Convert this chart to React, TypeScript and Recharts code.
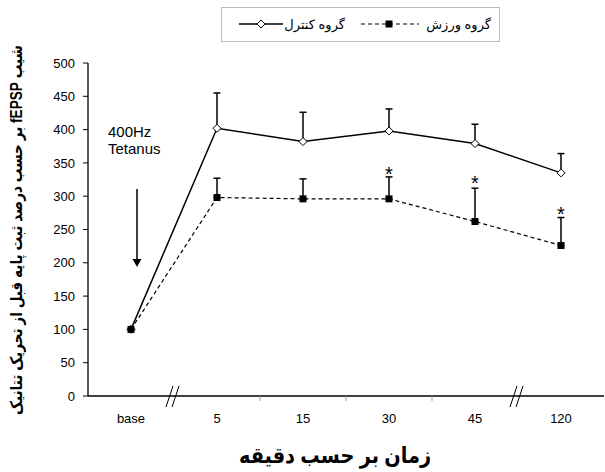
import React from "react";
import { ComposedChart, Line, XAxis, YAxis, ErrorBar } from "recharts";

const categories = ["base", "5", "15", "30", "45", "120"];
const controlMean = [100, 402, 382, 398, 379, 335];
const controlSem = [0, 53, 44, 33, 29, 29];
const exerciseMean = [100, 298, 296, 296, 262, 226];
const exerciseSem = [0, 29, 30, 33, 50, 42];
// where the significance asterisks sit (exercise group)
const starAt = [null, null, null, 338, 324, 278];
const yTicks = [0, 50, 100, 150, 200, 250, 300, 350, 400, 450, 500];

const CONTROL_NAME = "گروه کنترل";
const EXERCISE_NAME = "گروه ورزش";
const Y_LABEL = "شیب fEPSP بر حسب درصد ثبت پایه قبل از تحریک تتانیک";
const X_LABEL = "زمان بر حسب دقیقه";

const data = categories.map((c, i) => ({
  time: c,
  control: controlMean[i],
  controlErr: [0, controlSem[i]],
  exercise: exerciseMean[i],
  exerciseErr: [0, exerciseSem[i]],
  star: starAt[i],
}));

const W = 605;
const H = 472;
const PLOT = { left: 88, top: 63, right: 604, bottom: 396 };
const BAND = (PLOT.right - PLOT.left) / categories.length;
const FONT = "'Liberation Sans', Arial, 'DejaVu Sans', sans-serif";

const Diamond = (p: any) => {
  const { cx, cy } = p;
  if (cx == null || cy == null) return null;
  const r = 4;
  return (
    <path
      d={`M${cx},${cy - r}L${cx + r},${cy}L${cx},${cy + r}L${cx - r},${cy}Z`}
      fill="#fff"
      stroke="#000"
      strokeWidth={1}
    />
  );
};

const Square = (p: any) => {
  const { cx, cy } = p;
  if (cx == null || cy == null) return null;
  return <rect x={cx - 3.5} y={cy - 3.5} width={7} height={7} fill="#000" />;
};

const Star = (p: any) => {
  const { cx, cy, payload } = p;
  if (payload?.star == null || cy == null) return null;
  return (
    <text x={cx} y={cy + 10} textAnchor="middle" fontSize={20} fontFamily={FONT} fill="#000">
      *
    </text>
  );
};

function BreakMark({ x }: { x: number }) {
  const y = PLOT.bottom;
  return (
    <g stroke="#000" strokeWidth={1}>
      <line x1={x - 8} y1={y + 11} x2={x - 1} y2={y - 10} />
      <line x1={x - 2} y1={y + 11} x2={x + 5} y2={y - 10} />
    </g>
  );
}

function LegendBox() {
  return (
    <svg
      width={279}
      height={36}
      style={{ position: "absolute", left: 221, top: 7 }}
    >
      <rect x={0.5} y={0.5} width={278} height={34} fill="#fff" stroke="#bbb" />
      <line x1={18} y1={17} x2={62} y2={17} stroke="#000" strokeWidth={1.5} />
      <Diamond cx={40} cy={17} />
      <text x={124} y={22} textAnchor="end" fontSize={13} fontFamily={FONT}>
        {CONTROL_NAME}
      </text>
      <line x1={140} y1={17} x2={198} y2={17} stroke="#000" strokeWidth={1.2} strokeDasharray="4 3" />
      <Square cx={168} cy={17} />
      <text x={270} y={22} textAnchor="end" fontSize={13} fontFamily={FONT}>
        {EXERCISE_NAME}
      </text>
    </svg>
  );
}

export default function App() {
  const midTicks = [2, 3, 4].map((k) => PLOT.left + k * BAND);
  return (
    <div style={{ position: "absolute", left: 0, top: 0, width: W, height: H, background: "#fff" }}>
      <ComposedChart
        width={W}
        height={H}
        data={data}
        margin={{ top: PLOT.top, right: W - PLOT.right, left: 28, bottom: H - PLOT.bottom - 30 }}
      >
        <XAxis
          dataKey="time"
          height={30}
          padding={{ left: BAND / 2, right: BAND / 2 }}
          tickLine={false}
          axisLine={{ stroke: "#000", strokeWidth: 1.3 }}
          tick={{ fill: "#000", fontSize: 13, fontFamily: FONT }}
          tickMargin={12}
          interval={0}
        />
        <YAxis
          width={60}
          domain={[0, 500]}
          ticks={yTicks}
          interval={0}
          axisLine={{ stroke: "#000", strokeWidth: 1.3 }}
          tickLine={{ stroke: "#000" }}
          tickSize={5}
          tickMargin={8}
          tick={{ fill: "#000", fontSize: 13, fontFamily: FONT }}
        />
        <Line
          dataKey="control"
          name={CONTROL_NAME}
          stroke="#000"
          strokeWidth={1.5}
          dot={<Diamond />}
          activeDot={false}
          isAnimationActive={false}
        >
          <ErrorBar dataKey="controlErr" direction="y" width={3.5} stroke="#000" strokeWidth={1.5} />
        </Line>
        <Line
          dataKey="exercise"
          name={EXERCISE_NAME}
          stroke="#000"
          strokeWidth={1.2}
          strokeDasharray="4 3"
          dot={<Square />}
          activeDot={false}
          isAnimationActive={false}
        >
          <ErrorBar dataKey="exerciseErr" direction="y" width={3.5} stroke="#000" strokeWidth={1.5} />
        </Line>
        <Line
          dataKey="star"
          stroke="none"
          dot={<Star />}
          activeDot={false}
          legendType="none"
          isAnimationActive={false}
        />
      </ComposedChart>

      <svg
        width={W}
        height={H}
        style={{ position: "absolute", left: 0, top: 0, pointerEvents: "none" }}
      >
        {midTicks.map((x) => (
          <line key={x} x1={x} y1={PLOT.bottom} x2={x} y2={PLOT.bottom + 5} stroke="#999" />
        ))}
        <BreakMark x={PLOT.left + BAND} />
        <BreakMark x={PLOT.left + 5 * BAND} />

        <text x={108} y={137} fontSize={15} fontFamily={FONT} fill="#000">400Hz</text>
        <text x={108} y={154} fontSize={15} fontFamily={FONT} fill="#000">Tetanus</text>
        <line x1={137} y1={189} x2={137} y2={260} stroke="#000" strokeWidth={1.5} />
        <path d="M132.5,259 L141.5,259 L137,267 Z" fill="#000" />

        <text
          x={18}
          y={230}
          transform="rotate(-90 18 230)"
          textAnchor="middle"
          dominantBaseline="middle"
          fontSize={16}
          fontWeight="bold"
          fontFamily={FONT}
          direction="rtl"
          textLength={370}
          lengthAdjust="spacingAndGlyphs"
          fill="#000"
        >
          {Y_LABEL}
        </text>
        <text
          x={335}
          y={463}
          textAnchor="middle"
          fontSize={22}
          fontWeight="bold"
          fontFamily={FONT}
          textLength={192}
          lengthAdjust="spacingAndGlyphs"
          fill="#000"
        >
          {X_LABEL}
        </text>
      </svg>
      <LegendBox />
    </div>
  );
}
